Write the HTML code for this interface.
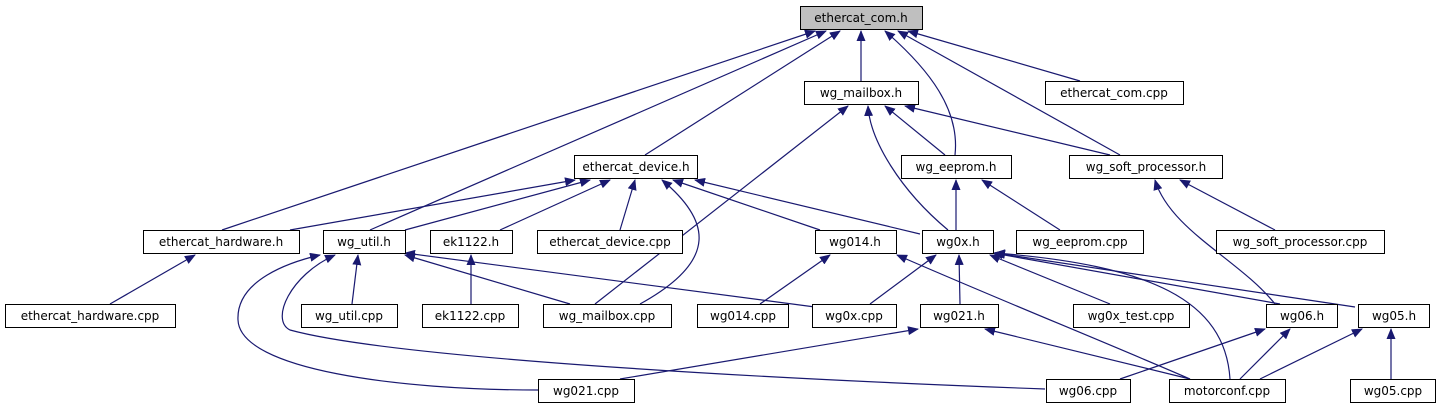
<!DOCTYPE html>
<html><head><meta charset="utf-8"><style>
html,body{margin:0;padding:0;background:#fff;width:1441px;height:411px;overflow:hidden}
svg text{font-family:"DejaVu Sans","Liberation Sans",sans-serif;font-size:12px;fill:#000}
</style></head><body>
<svg width="1441" height="411" viewBox="0 0 1441 411" xmlns="http://www.w3.org/2000/svg">
<defs><marker id="a" markerWidth="11" markerHeight="9" refX="10" refY="4.5" orient="auto" markerUnits="userSpaceOnUse"><path d="M0,0 L11,4.5 L0,9 Z" fill="#191970"/></marker></defs>
<g fill="none" stroke="#191970" stroke-width="1.2" marker-end="url(#a)">
<path d="M222,230 L815,31"/>
<path d="M370,230 L826,31"/>
<path d="M645,155 L840,31"/>
<path d="M861,81 L861,31"/>
<path d="M955,155 C960,110 930,70 885,31"/>
<path d="M1120,155 L898,31"/>
<path d="M1080,81 L908,31"/>
<path d="M595,304 L848,106"/>
<path d="M948,230 C900,190 870,140 868,106"/>
<path d="M945,155 L885,106"/>
<path d="M1110,155 L905,106"/>
<path d="M290,230 L575,180"/>
<path d="M405,230 L590,180"/>
<path d="M500,230 L610,180"/>
<path d="M620,230 L635,180"/>
<path d="M640,304 C720,260 710,220 662,180"/>
<path d="M820,230 L673,180"/>
<path d="M920,234 L695,180"/>
<path d="M956,230 L956,180"/>
<path d="M1060,230 L982,180"/>
<path d="M1275,304 C1240,260 1170,230 1155,180"/>
<path d="M1275,230 L1180,180"/>
<path d="M110,304 L195,255"/>
<path d="M538,390 C400,390 240,370 238,320 C236,280 290,262 320,255"/>
<path d="M1045,389 C800,380 400,360 290,330 C270,320 290,275 335,255"/>
<path d="M352,304 L358,255"/>
<path d="M570,304 L405,255"/>
<path d="M815,307 L405,253"/>
<path d="M471,304 L471,255"/>
<path d="M760,304 L830,255"/>
<path d="M1190,379 C1100,340 1000,300 897,255"/>
<path d="M870,304 L936,255"/>
<path d="M960,304 L959,255"/>
<path d="M1110,304 L990,255"/>
<path d="M1280,304 L993,253"/>
<path d="M1355,307 L995,253"/>
<path d="M1230,379 C1225,300 1150,265 995,253"/>
<path d="M620,379 L918,329"/>
<path d="M1190,379 L985,329"/>
<path d="M1120,379 L1265,329"/>
<path d="M1240,379 L1290,329"/>
<path d="M1260,379 L1362,329"/>
<path d="M1391,379 L1391,329"/>
</g>
<g stroke="#000" stroke-width="1" fill="#fff">
<rect x="800.5" y="6.5" width="122" height="23" fill="#bfbfbf"/>
<rect x="804.5" y="81.5" width="114" height="23"/>
<rect x="1045.5" y="81.5" width="138" height="23"/>
<rect x="574.5" y="155.5" width="123" height="23"/>
<rect x="901.5" y="155.5" width="110" height="23"/>
<rect x="1069.5" y="155.5" width="153" height="23"/>
<rect x="143.5" y="230.5" width="156" height="23"/>
<rect x="323.5" y="230.5" width="82" height="23"/>
<rect x="430.5" y="230.5" width="82" height="23"/>
<rect x="537.5" y="230.5" width="145" height="23"/>
<rect x="815.5" y="230.5" width="81" height="23"/>
<rect x="922.5" y="230.5" width="71" height="23"/>
<rect x="1016.5" y="230.5" width="127" height="23"/>
<rect x="1216.5" y="230.5" width="168" height="23"/>
<rect x="5.5" y="304.5" width="170" height="23"/>
<rect x="301.5" y="304.5" width="96" height="23"/>
<rect x="422.5" y="304.5" width="96" height="23"/>
<rect x="543.5" y="304.5" width="128" height="23"/>
<rect x="697.5" y="304.5" width="91" height="23"/>
<rect x="812.5" y="304.5" width="84" height="23"/>
<rect x="920.5" y="304.5" width="78" height="23"/>
<rect x="1073.5" y="304.5" width="116" height="23"/>
<rect x="1266.5" y="304.5" width="71" height="23"/>
<rect x="1358.5" y="304.5" width="71" height="23"/>
<rect x="538.5" y="379.5" width="96" height="23"/>
<rect x="1046.5" y="379.5" width="84" height="23"/>
<rect x="1169.5" y="379.5" width="116" height="23"/>
<rect x="1350.5" y="379.5" width="85" height="23"/>
</g>
<g text-anchor="middle">
<text x="861" y="22">ethercat_com.h</text>
<text x="861" y="97">wg_mailbox.h</text>
<text x="1114" y="97">ethercat_com.cpp</text>
<text x="636" y="171">ethercat_device.h</text>
<text x="956" y="171">wg_eeprom.h</text>
<text x="1146" y="171">wg_soft_processor.h</text>
<text x="221" y="246">ethercat_hardware.h</text>
<text x="364" y="246">wg_util.h</text>
<text x="471" y="246">ek1122.h</text>
<text x="610" y="246">ethercat_device.cpp</text>
<text x="855" y="246">wg014.h</text>
<text x="958" y="246">wg0x.h</text>
<text x="1080" y="246">wg_eeprom.cpp</text>
<text x="1300" y="246">wg_soft_processor.cpp</text>
<text x="90" y="320">ethercat_hardware.cpp</text>
<text x="349" y="320">wg_util.cpp</text>
<text x="470" y="320">ek1122.cpp</text>
<text x="607" y="320">wg_mailbox.cpp</text>
<text x="743" y="320">wg014.cpp</text>
<text x="854" y="320">wg0x.cpp</text>
<text x="959" y="320">wg021.h</text>
<text x="1131" y="320">wg0x_test.cpp</text>
<text x="1302" y="320">wg06.h</text>
<text x="1394" y="320">wg05.h</text>
<text x="586" y="395">wg021.cpp</text>
<text x="1088" y="395">wg06.cpp</text>
<text x="1227" y="395">motorconf.cpp</text>
<text x="1393" y="395">wg05.cpp</text>
</g>
</svg>
</body></html>
